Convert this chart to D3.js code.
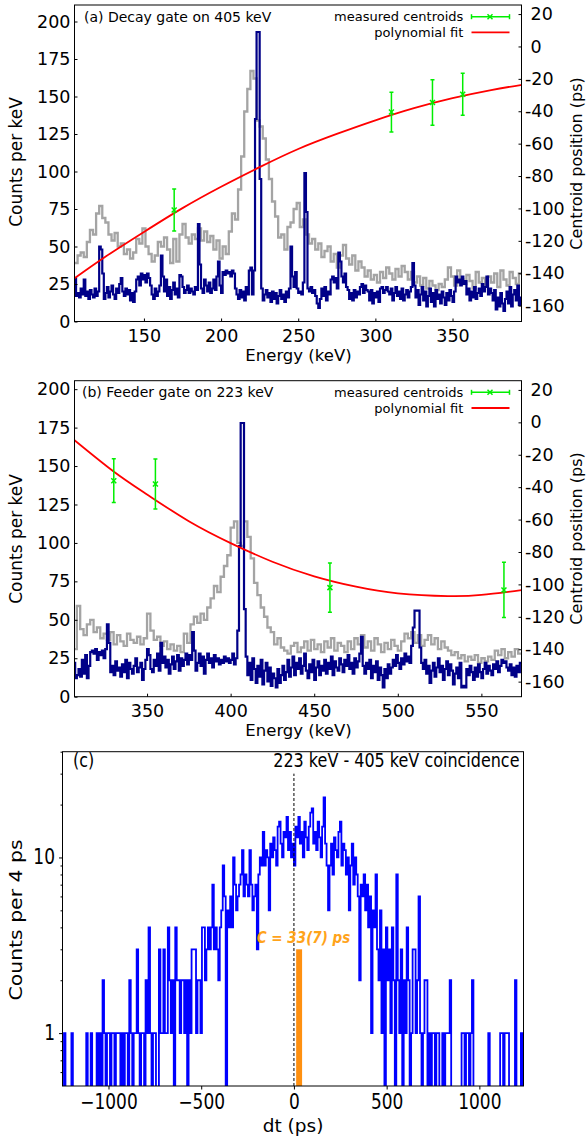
<!DOCTYPE html>
<html><head><meta charset="utf-8">
<script src="https://cdn.jsdelivr.net/npm/d3@7"></script>
<style>
body{margin:0;background:#fff;}
svg{display:block;font-family:"DejaVu Sans",sans-serif;}
</style></head><body>
<svg id="fig" width="587" height="1137"></svg>
<script>
// ---------------- DATA ----------------
// Panel (a): decay gate on 405 keV
const aNavyStart = 105, aNavyWidth = 1;
const aNavyCounts = [
 29,17,19,16,22,18,28,17,20,15, 21,18,16,22,17,20,50,48,32,15,
 19,23,16,20,24,18,15,22,19,25, 29,20,17,22,18,21,14,19,13,20,
 28,30,24,32,28,31,26,32,29,24, 18,15,22,17,20,24,44,30,20,28,
 17,23,15,21,26,18,22,16,31,30, 23,19,21,24,19,22,20,18,23,21,
 65,38,22,19,28,24,20,26,19,22, 28,21,30,40,24,19,33,31,34,32,
 33,30,34,32,22,18,15,21,16,20, 14,23,18,34,36,18,34,135,193,193,
 95,22,14,18,21,16,19,13,20,15, 19,12,17,21,15,18,13,20,16,22,
 50,30,23,33,22,19,20,18,26,99, 73,22,20,23,19,21,17,12,9,15,
 22,17,23,14,20,18,28,30,26,29, 22,46,40,30,26,32,23,21,15,19,
 14,21,16,20,18,23,25,19,24,21, 20,14,21,12,19,16,20,13,22,23,
 19,21,23,20,18,22,14,19,23,17, 20,15,22,14,18,21,16,20,23,39,
 24,16,21,11,18,23,14,20,10,17, 22,13,19,10,21,15,18,12,20,16,
 11,19,14,21,17,13,20,30,26,28, 24,30,25,27,18,22,14,20,16,23,
 15,19,22,17,25,20,23,30,18,22, 19,14,21,8,16,10,19,12,7,15,
 20,12,23,10,18,21,14,24,11,16];
const aGrayStart = 105, aGrayWidth = 2;
const aGrayCounts = [
 39,44,46,43,53,61,58,72,77,69, 66,58,54,59,50,52,45,48,42,46,
 55,52,62,50,45,40,44,53,50,56, 48,39,55,40,58,65,56,52,58,55,
 62,54,60,53,57,48,54,42,50,45, 60,72,68,88,110,140,155,167,162,134,
 130,122,108,95,80,70,56,58,48,63, 66,75,79,63,68,58,52,55,48,52,
 43,47,50,40,45,36,44,51,42,38, 44,34,40,36,30,34,28,31,26,33,
 29,36,32,28,35,30,37,33,28,33, 26,30,24,29,22,27,24,21,25,23,
 28,36,30,24,34,28,25,31,27,22, 33,26,29,24,30,26,32,23,34,28,
 24,33,29,25,32];
const aCentroidE   = [169.6, 310.4, 337.0, 356.6];
const aCentroidPs  = [-101.0, -40.5, -34.6, -29.5];
const aCentroidErr = [13.0, 12.3, 14.0, 13.0];
const aFitE  = [105, 125, 150, 175, 200, 225, 250, 275, 300, 325, 350, 375, 395];
const aFitPs = [-143.1, -129.8, -114.5, -99.8, -86.6, -74.5, -63.3, -54.0, -45.6, -38.1, -31.9, -26.9, -23.7];

// Panel (b): feeder gate on 223 keV
const bNavyStart = 306, bNavyWidth = 1;
const bNavyCounts = [
 22,12,14,18,13,24,15,27,12,20, 29,30,28,31,24,29,27,30,25,31,
 47,35,16,20,14,23,17,19,13,21, 16,24,12,22,18,15,20,25,16,19,
 22,11,18,24,31,27,18,16,24,20, 28,17,35,22,26,19,24,15,21,26,
 18,23,27,17,25,20,24,28,21,27, 24,42,30,17,22,28,20,26,15,24,
 28,22,25,19,27,23,25,21,24,22, 26,23,25,22,24,28,21,25,43,98,
 178,178,57,26,14,22,11,25,18,9, 20,13,24,8,17,22,10,19,7,15,
 12,6,18,9,14,20,11,16,24,13, 19,26,14,22,18,25,15,20,28,17,
 12,21,16,24,11,19,23,14,20,17, 24,15,22,18,26,14,23,19,17,25,
 21,16,24,20,27,18,22,15,25,19, 23,28,39,20,15,22,18,24,12,20,
 16,23,11,19,14,6,18,12,21,15, 19,24,20,27,22,18,25,21,28,23,
 26,22,33,45,56,56,56,32,22,18, 24,15,20,9,17,22,13,19,25,16,
 20,11,18,23,14,21,17,8,15,19, 12,22,6,7,6,18,14,20,16,11,
 19,13,21,16,12,18,22,15,20,17, 14,21,18,23,16,20,24,22,23,19,
 17,21,14,19,13,20,16,22];
const bGrayStart = 306, bGrayWidth = 2;
const bGrayCounts = [
 31,59,44,40,47,50,42,45,38,41, 37,42,34,40,36,33,41,37,35,39,
 34,38,54,43,37,39,33,36,31,34, 30,33,29,41,35,47,52,48,54,50,
 58,64,72,68,78,85,92,110,114,100, 98,114,104,90,74,66,58,52,45,42,
 34,38,32,30,28,33,35,29,32,36, 30,37,31,34,29,36,32,38,30,35,
 33,29,36,31,38,34,40,32,36,30, 38,34,29,35,31,37,33,30,36,41,
 38,42,35,40,33,37,40,34,38,31, 36,32,30,27,29,25,27,23,26,24,
 27,22,25,23,26,24,30,27,31,25, 29,26,31,28];
const bCentroidE   = [330.1, 355.0, 459.4, 563.5];
const bCentroidPs  = [-36.0, -38.0, -102.0, -103.4];
const bCentroidErr = [13.5, 15.4, 15.2, 17.0];
const bFitE  = [306.6, 330, 350, 375, 400, 425, 450, 475, 500, 530, 550, 574];
const bFitPs = [-11.0, -30.3, -44.5, -61.0, -74.5, -86.0, -95.0, -101.4, -105.5, -107.2, -106.5, -103.5];

// Panel (c): 223 keV - 405 keV coincidence, dt histogram
const cStart = -1248, cBinWidth = 8;
const cCounts = [
 0,1,0,0,0,0,1,0,0,0, 0,0,0,0,0,0,1,0,0,1, 0,0,0,1,0,1,0,2,1,0,
 1,1,0,1,1,0,1,1,1,0, 1,0,1,1,0,2,1,0,1,1, 3,1,0,1,1,0,2,1,4,1,
 0,1,1,0,0,3,1,1,3,1, 1,4,2,1,2,0,4,2,2,1, 2,2,1,2,0,2,1,3,3,3,
 1,2,2,1,4,4,2,3,4,3, 4,7,3,4,3,2,4,5,9,6, 0,5,4,6,4,10,7,5,6,7,
 8,11,6,8,7,6,11,7,5,6, 7,3,8,10,9,14,9,11,10,5, 12,10,13,11,9,15,16,12,10,14,
 13,17,11,14,10,12,9,15,13,17, 12,14,10,16,13,11,15,18,19,12, 14,11,16,13,10,15,22,12,9,5,
 9,12,8,13,11,10,14,16,9,12, 11,8,10,5,9,12,7,10,8,6, 2,7,6,8,5,7,4,6,1,5,
 4,8,3,2,5,1,3,0,4,2, 3,1,4,2,0,8,2,1,3,0, 2,1,4,2,0,1,3,3,1,2,
 6,1,0,1,2,2,0,1,0,1, 1,0,1,1,0,0,1,0,1,1, 1,2,0,0,0,0,0,0,0,1,
 1,0,1,1,0,1,2,0,0,0, 0,0,0,0,0,0,0,1,0,0, 0,0,0,0,0,1,1,0,1,1,
 1,0,0,0,0,2,0,0,0,1, 0];
const cCentroidBar = [12, 44];   // ps range of marked centroid bin
const cCentroidHeight = [3];
const cDashTop = [30];

// Ticks
const aXTicks = [150, 200, 250, 300, 350];
const bXTicks = [350, 400, 450, 500, 550];
const countTicks = [0, 25, 50, 75, 100, 125, 150, 175, 200];
const psTicks = [20, 0, -20, -40, -60, -80, -100, -120, -140, -160];
const cXTicks = [-1000, -500, 0, 500, 1000];
const cYTicks = [1, 10];
const cYMinor = [0.6, 0.7, 0.8, 0.9, 2, 3, 4, 5, 6, 7, 8, 9, 20, 30, 40];

// ---------------- DRAW ----------------
const svg = d3.select("#fig");
const FONT = "DejaVu Sans";

function stepPoints(start, w, counts) {
  const pts = counts.map((v, i) => [start + i * w, v]);
  pts.push([start + counts.length * w, counts[counts.length - 1]]);
  return pts;
}

function spectrum(p) {
  const g = svg.append("g");
  const x = d3.scaleLinear().domain(p.xDom).range([p.l, p.r]);
  const y = d3.scaleLinear().domain(p.yDom).range([p.b, p.t]);
  const y2 = d3.scaleLinear().domain(p.y2Dom).range([p.b, p.t]);
  const cid = "clip" + p.id;
  svg.append("clipPath").attr("id", cid).append("rect")
    .attr("x", p.l).attr("y", p.t).attr("width", p.r - p.l).attr("height", p.b - p.t);
  const pg = g.append("g").attr("clip-path", `url(#${cid})`);
  const hline = d3.line().x(d => x(d[0])).y(d => y(d[1])).curve(d3.curveStepAfter);
  pg.append("path").attr("d", hline(stepPoints(p.grayStart, p.grayWidth, p.gray)))
    .attr("fill", "none").attr("stroke", "#a4a4a4").attr("stroke-width", 2.3);
  pg.append("path").attr("d", hline(stepPoints(p.navyStart, p.navyWidth, p.navy)))
    .attr("fill", "none").attr("stroke", "#000088").attr("stroke-width", 2.2);
  const fline = d3.line().x(d => x(d[0])).y(d => y2(d[1])).curve(d3.curveNatural);
  pg.append("path").attr("d", fline(p.fitE.map((e, i) => [e, p.fitPs[i]])))
    .attr("fill", "none").attr("stroke", "#ff0000").attr("stroke-width", 1.8);
  const green = "#00ee00";
  p.cE.forEach((e, i) => {
    const cx = x(e), cy = y2(p.cPs[i]);
    const ty = y2(p.cPs[i] + p.cErr[i]), by = y2(p.cPs[i] - p.cErr[i]);
    const eg = pg.append("g").attr("stroke", green).attr("stroke-width", 1.5).attr("fill", "none");
    eg.append("line").attr("x1", cx).attr("x2", cx).attr("y1", ty).attr("y2", by);
    eg.append("line").attr("x1", cx - 2).attr("x2", cx + 2).attr("y1", ty).attr("y2", ty);
    eg.append("line").attr("x1", cx - 2).attr("x2", cx + 2).attr("y1", by).attr("y2", by);
    eg.append("path").attr("d", `M${cx-2.5},${cy-2.5}L${cx+2.5},${cy+2.5}M${cx-2.5},${cy+2.5}L${cx+2.5},${cy-2.5}`);
  });
  // frame
  g.append("rect").attr("x", p.l).attr("y", p.t).attr("width", p.r - p.l).attr("height", p.b - p.t)
    .attr("fill", "none").attr("stroke", "#000").attr("stroke-width", 1);
  // axes
  const style = s => { s.select(".domain").remove(); s.attr("font-family", FONT).attr("font-size", 17.5); };
  g.append("g").attr("transform", `translate(0,${p.b})`)
    .call(d3.axisBottom(x).tickValues(p.xTicks).tickSize(-3).tickPadding(7.8).tickFormat(d3.format("d"))).call(style);
  g.append("g").attr("transform", `translate(${p.l},0)`)
    .call(d3.axisLeft(y).tickValues(countTicks).tickSize(-3).tickPadding(4).tickFormat(d3.format("d"))).call(style);
  g.append("g").attr("transform", `translate(${p.r},0)`)
    .call(d3.axisRight(y2).tickValues(psTicks).tickSize(-3).tickPadding(3.5)
      .tickFormat(d => d < 0 ? "-" + (-d) : " " + d)).call(style)
    .selectAll("text").style("white-space", "pre");
  // labels
  g.append("text").attr("x", p.titleX).attr("y", p.titleY).attr("font-size", 14).attr("font-family", FONT).text(p.title);
  g.append("text").attr("x", (p.l + p.r) / 2 + 0.5).attr("y", p.xLabelY).attr("text-anchor", "middle")
    .attr("font-size", 16.5).attr("font-family", FONT).text("Energy (keV)");
  g.append("text").attr("transform", `translate(22.4,${p.yLabelC}) rotate(-90)`).attr("text-anchor", "middle")
    .attr("font-size", 17).attr("font-family", FONT).text("Counts per keV");
  g.append("text").attr("transform", `translate(582,${p.y2LabelC}) rotate(-90)`).attr("text-anchor", "middle")
    .attr("font-size", 16).attr("font-family", FONT).text("Centroid position (ps)");
  // legend
  const lg = g.append("g").attr("font-family", FONT).attr("font-size", 13);
  const r1 = p.legY, r2 = p.legY + 15.7;
  lg.append("text").attr("x", 463.3).attr("y", r1 + 4.6).attr("text-anchor", "end").text("measured centroids");
  lg.append("text").attr("x", 463.3).attr("y", r2 + 4.6).attr("text-anchor", "end").text("polynomial fit");
  const sg = lg.append("g").attr("stroke", green).attr("stroke-width", 1.5).attr("fill", "none");
  sg.append("line").attr("x1", 471.5).attr("x2", 509.5).attr("y1", r1).attr("y2", r1);
  sg.append("line").attr("x1", 471.5).attr("x2", 471.5).attr("y1", r1 - 2.5).attr("y2", r1 + 2.5);
  sg.append("line").attr("x1", 509.5).attr("x2", 509.5).attr("y1", r1 - 2.5).attr("y2", r1 + 2.5);
  sg.append("path").attr("d", `M487.5,${r1-2.5}L492.5,${r1+2.5}M487.5,${r1+2.5}L492.5,${r1-2.5}`);
  lg.append("line").attr("x1", 471.5).attr("x2", 509.5).attr("y1", r2).attr("y2", r2)
    .attr("stroke", "#ff0000").attr("stroke-width", 1.8);
}

spectrum({
  id: "a", l: 74.5, r: 521.5, t: 5, b: 321.5,
  xDom: [105, 394.7], yDom: [0, 211], y2Dom: [-169.8, 25.6],
  navyStart: aNavyStart, navyWidth: aNavyWidth, navy: aNavyCounts,
  grayStart: aGrayStart, grayWidth: aGrayWidth, gray: aGrayCounts,
  cE: aCentroidE, cPs: aCentroidPs, cErr: aCentroidErr, fitE: aFitE, fitPs: aFitPs,
  xTicks: aXTicks, title: "(a) Decay gate on 405 keV", titleX: 84, titleY: 21.5,
  xLabelY: 361, yLabelC: 162, y2LabelC: 163.5, legY: 16.7
});
spectrum({
  id: "b", l: 74.5, r: 521.5, t: 380.7, b: 696.7,
  xDom: [306.6, 574], yDom: [0, 205.5], y2Dom: [-169.3, 25.7],
  navyStart: bNavyStart, navyWidth: bNavyWidth, navy: bNavyCounts,
  grayStart: bGrayStart, grayWidth: bGrayWidth, gray: bGrayCounts,
  cE: bCentroidE, cPs: bCentroidPs, cErr: bCentroidErr, fitE: bFitE, fitPs: bFitPs,
  xTicks: bXTicks, title: "(b) Feeder gate on 223 keV", titleX: 82, titleY: 397,
  xLabelY: 736, yLabelC: 539, y2LabelC: 538.5, legY: 392.3
});

// Panel (c)
(function () {
  const L = 62.5, R = 523.5, T = 751.7, B = 1086, S = 1.2;
  const g = svg.append("g");
  const x = d3.scaleLinear().domain([-1248, 1238]).range([L, R]);
  const y = d3.scaleLog().domain([0.5, 40]).range([B, T]);
  svg.append("clipPath").attr("id", "clipc").append("rect").attr("x", L).attr("y", T).attr("width", R - L).attr("height", B - T);
  const pg = g.append("g").attr("clip-path", "url(#clipc)");
  const line = d3.line().x(d => x(d[0])).y(d => y(d[1] > 0 ? d[1] : 0.3)).curve(d3.curveStepAfter);
  pg.append("path").attr("d", line(stepPoints(cStart, cBinWidth, cCounts)))
    .attr("fill", "none").attr("stroke", "#0000ff").attr("stroke-width", 1.8);
  pg.append("line").attr("x1", x(0)).attr("x2", x(0)).attr("y1", y(0.5)).attr("y2", y(cDashTop[0]))
    .attr("stroke", "#000").attr("stroke-width", 1).attr("stroke-dasharray", "3,2");
  pg.append("rect").attr("x", x(cCentroidBar[0])).attr("width", x(cCentroidBar[1]) - x(cCentroidBar[0]))
    .attr("y", y(cCentroidHeight[0])).attr("height", y(0.5) - y(cCentroidHeight[0])).attr("fill", "#ff9010");
  g.append("rect").attr("x", L).attr("y", T).attr("width", R - L).attr("height", B - T)
    .attr("fill", "none").attr("stroke", "#000").attr("stroke-width", 1);
  const style = s => { s.select(".domain").remove(); s.attr("font-family", FONT).attr("font-size", 17); };
  g.append("g").attr("transform", `translate(0,${B})`)
    .call(d3.axisBottom(x).tickValues(cXTicks).tickSize(3.5).tickPadding(3.6).tickFormat(d3.format("d"))).call(style)
    .selectAll("text").attr("transform", `scale(1,${S})`);
  g.append("g").attr("transform", `translate(${L},0)`)
    .call(d3.axisLeft(y).tickValues(cYTicks).tickSize(3.5).tickPadding(4).tickFormat(d3.format("d"))).call(style)
    .selectAll("text").attr("transform", `scale(1,${S})`);
  g.append("g").attr("transform", `translate(${L},0)`)
    .call(d3.axisLeft(y).tickValues(cYMinor).tickSize(2).tickFormat("")).call(style);
  const t = (x0, y0, str, o) => {
    const sc = o.noScale ? "" : (o.rot ? "rotate(-90) scale(" + S + ",1)" : "scale(1," + S + ")");
    const el = g.append("text").attr("transform", `translate(${x0},${y0}) ${sc}`)
      .attr("font-family", FONT).attr("font-size", o.size).attr("text-anchor", o.anchor || "start").text(str);
    if (o.fill) el.attr("fill", o.fill);
    if (o.bold) el.attr("font-weight", "bold").attr("font-style", "italic");
  };
  t(73, 767, "(c)", { size: 16 });
  t(519.5, 767, "223 keV - 405 keV coincidence", { size: 16, anchor: "end" });
  t(303.5, 943, "C = 33(7) ps", { size: 13.5, anchor: "middle", fill: "#ffa31a", bold: true });
  t(293, 1132, "dt (ps)", { size: 18.5, anchor: "middle", noScale: true });
  t(22.4, 920, "Counts per 4 ps", { size: 17, anchor: "middle", rot: true });
})();
</script>
</body></html>
